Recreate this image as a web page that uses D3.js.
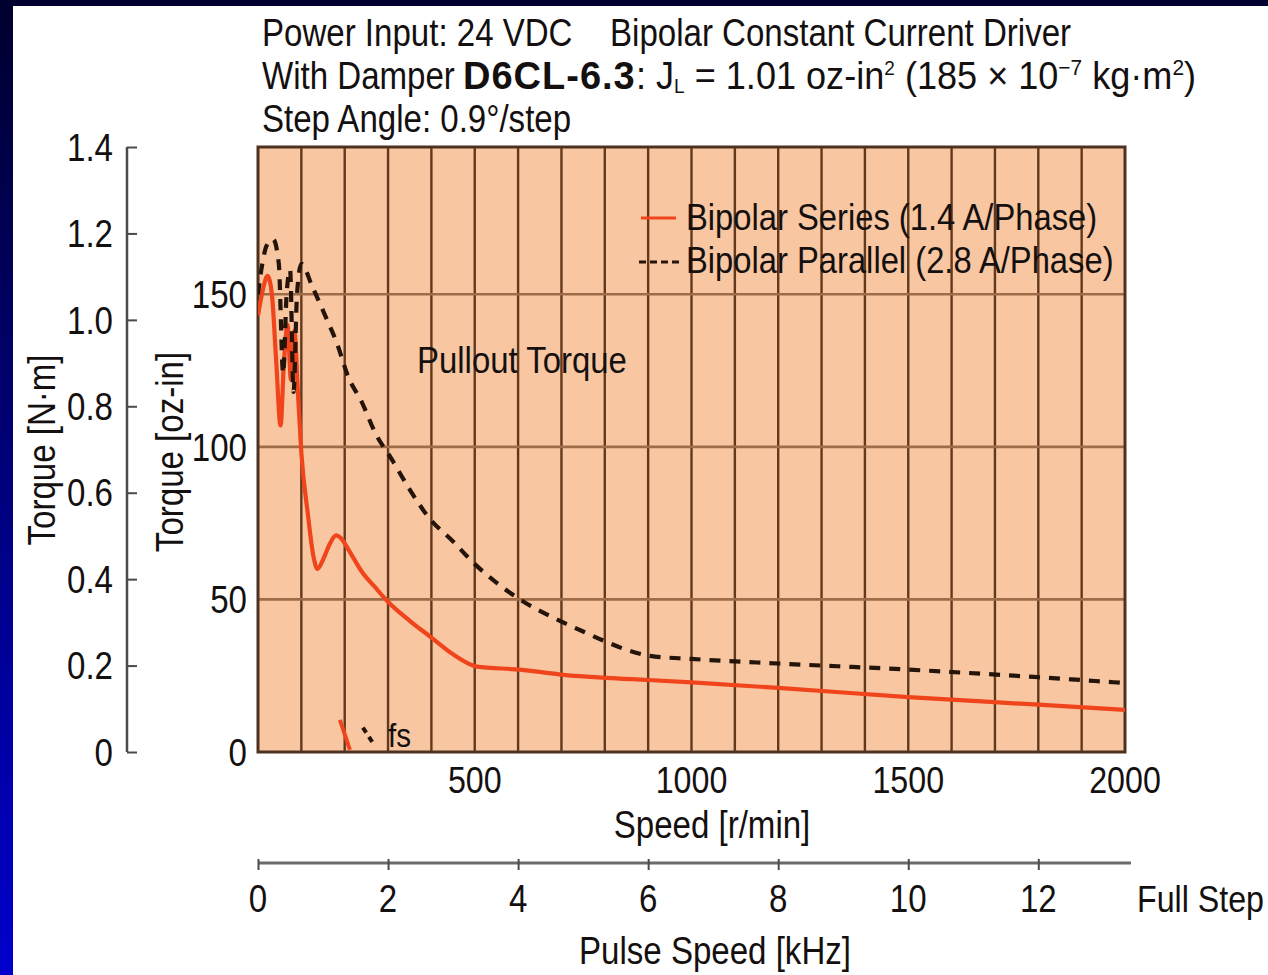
<!DOCTYPE html>
<html><head><meta charset="utf-8">
<script src="https://cdn.jsdelivr.net/npm/d3@7"></script>
<style>
html,body{margin:0;padding:0;background:#fff;overflow:hidden}
svg{display:block}
text{font-family:"Liberation Sans",Arial,Helvetica,sans-serif;fill:#141010}
</style></head>
<body>
<svg id="c" width="1268" height="975"></svg>
<script>
// ---- data ----
const speedTickLabels = [500, 1000, 1500, 2000];
const ozTickLabels = [0, 50, 100, 150];
const nmTickLabels = [0, 0.2, 0.4, 0.6, 0.8, 1.0, 1.2, 1.4];
const pulseTickLabels = [0, 2, 4, 6, 8, 10, 12];
const gridHorizontal = [50, 100, 150];

const seriesSpeed  = [0, 12, 22, 32, 42, 52, 60, 68, 76, 84, 92, 100, 115, 128, 137, 150, 165, 180, 192, 210, 240, 270, 298, 350, 400, 450, 505, 604, 704, 803, 900, 1000, 1200, 1500, 1800, 2000];
const seriesTorque = [143, 152, 156, 150, 128, 107, 128, 140, 122, 138, 118, 98, 78, 64, 60, 63, 68, 71, 70, 66, 59, 54, 49.5, 43, 37.5, 32, 28, 27, 25.3, 24.3, 23.6, 22.8, 21, 18, 15.5, 13.8];

const parallelSpeed  = [0, 10, 20, 35, 48, 58, 66, 74, 82, 90, 100, 125, 155, 182, 208, 240, 270, 309, 350, 393, 450, 497, 550, 604, 681, 750, 805, 850, 904, 1000, 1200, 1500, 1800, 2000];
const parallelTorque = [150, 160, 166, 168, 160, 124, 150, 158, 118, 150, 160, 152.6, 143, 134, 123, 114.5, 104.7, 95.8, 86, 77, 69, 62, 55.5, 50, 44, 39.5, 36, 33.5, 31.5, 30.5, 29, 27, 24.5, 22.6];

const fsSeriesSpeed = [189, 212],  fsSeriesTorque = [10.5, 0.7];
const fsParallelSpeed = [242, 265], fsParallelTorque = [8, 3];

const legendLabels = ["Bipolar Series (1.4 A/Phase)", "Bipolar Parallel (2.8 A/Phase)"];

// ---- layout ----
const svg = d3.select("#c");
const X0 = 258, X1 = 1125, Y0 = 752, Y1 = 147;
const OZ_PER_NM = 141.6119;
const SX = 0.87; // condensed look
const x = d3.scaleLinear().domain([0, 2000]).range([X0, X1]);
const y = d3.scaleLinear().domain([0, 1.4 * OZ_PER_NM]).range([Y0, Y1]);
const yNm = d3.scaleLinear().domain([0, 1.4]).range([Y0, Y1]);
const xk = d3.scaleLinear().domain([0, 2000 * 400 / 60 / 1000]).range([X0, X1]);

function T(parent, tx, ty, str, o = {}) {
  const g = parent.append("g").attr("transform",
    `translate(${tx},${ty})${o.rotate ? ` rotate(${o.rotate})` : ""} scale(${o.sx || SX},1)`);
  const t = g.append("text").attr("font-size", o.size || 38).attr("text-anchor", o.anchor || "start");
  if (o.dy) t.attr("dy", o.dy);
  if (str !== null) t.text(str);
  return t;
}

// background frame
const defs = svg.append("defs");
const lg = defs.append("linearGradient").attr("id","blueg").attr("x1",0).attr("y1",0).attr("x2",0).attr("y2",1);
lg.append("stop").attr("offset","0%").attr("stop-color","#00002e");
lg.append("stop").attr("offset","100%").attr("stop-color","#0000cc");
svg.append("rect").attr("x",0).attr("y",0).attr("width",1268).attr("height",975).attr("fill","#fff");
svg.append("rect").attr("x",0).attr("y",0).attr("width",13).attr("height",975).attr("fill","url(#blueg)");
svg.append("rect").attr("x",0).attr("y",0).attr("width",1268).attr("height",6).attr("fill","#00002e");

// plot area
svg.append("rect").attr("x",X0).attr("y",Y1).attr("width",X1-X0).attr("height",Y0-Y1).attr("fill","#f8c6a0");
defs.append("clipPath").attr("id","plotclip").append("rect").attr("x",X0).attr("y",Y1).attr("width",X1-X0).attr("height",Y0-Y1);

// grid
const g = svg.append("g");
g.selectAll("line.v").data(x.ticks(20).filter(d => d > 0 && d < 2000)).join("line")
  .attr("x1", d => x(d)).attr("x2", d => x(d)).attr("y1", Y1).attr("y2", Y0)
  .attr("stroke","#62391c").attr("stroke-width",2.4);
g.selectAll("line.h").data(gridHorizontal).join("line")
  .attr("x1", X0).attr("x2", X1).attr("y1", d => y(d)).attr("y2", d => y(d))
  .attr("stroke","#9e6c48").attr("stroke-width",2.6);
svg.append("rect").attr("x",X0).attr("y",Y1).attr("width",X1-X0).attr("height",Y0-Y1)
  .attr("fill","none").attr("stroke","#4e3220").attr("stroke-width",3);

// curves
const line = d3.line().x(d => x(d[0])).y(d => y(d[1])).curve(d3.curveMonotoneX);
const cg = svg.append("g").attr("clip-path","url(#plotclip)");
cg.append("path").datum(d3.zip(seriesSpeed, seriesTorque)).attr("d", line)
  .attr("fill","none").attr("stroke","#f0441c").attr("stroke-width",4.2).attr("stroke-linejoin","round");
cg.append("path").datum(d3.zip(parallelSpeed, parallelTorque)).attr("d", line)
  .attr("fill","none").attr("stroke","#24140a").attr("stroke-width",4.2).attr("stroke-dasharray","11,9");
const lin = d3.line().x(d => x(d[0])).y(d => y(d[1]));
cg.append("path").datum(d3.zip(fsSeriesSpeed, fsSeriesTorque)).attr("d", lin)
  .attr("fill","none").attr("stroke","#f0441c").attr("stroke-width",4);
cg.append("path").datum(d3.zip(fsParallelSpeed, fsParallelTorque)).attr("d", lin)
  .attr("fill","none").attr("stroke","#24140a").attr("stroke-width",4).attr("stroke-dasharray","6,5");
T(svg, x(300), 747, "fs", {size: 34});

// legend
svg.append("line").attr("x1",641).attr("x2",676).attr("y1",218).attr("y2",218).attr("stroke","#f0441c").attr("stroke-width",3);
svg.append("line").attr("x1",639).attr("x2",681).attr("y1",262).attr("y2",262).attr("stroke","#24140a").attr("stroke-width",3).attr("stroke-dasharray","7,4");
legendLabels.forEach((d, i) => T(svg, 686, 230 + i * 43, d, {size: 37, sx: 0.885}));
T(svg, 417, 373, "Pullout Torque", {size: 37, sx: 0.89});

// oz-in axis labels
ozTickLabels.forEach(d => T(svg, 247, y(d), String(d), {anchor: "end", dy: "0.36em"}));

// N·m axis
const ax = svg.append("g").attr("transform","translate(127,0)")
  .call(d3.axisRight(yNm).tickValues(nmTickLabels).tickSize(10).tickFormat(""));
ax.select(".domain").attr("stroke","#4a4a4a").attr("stroke-width",2.5).attr("d",`M0,${Y1}V${Y0}`);
ax.selectAll(".tick line").attr("stroke","#4a4a4a").attr("stroke-width",2);
nmTickLabels.forEach(d => T(svg, 113, yNm(d), d === 0 ? "0" : d.toFixed(1), {anchor: "end", dy: "0.36em"}));

// speed labels
speedTickLabels.forEach(d => T(svg, x(d), 793, String(d), {anchor: "middle", size: 37}));
T(svg, 712, 838, "Speed [r/min]", {anchor: "middle"});

// pulse axis
const pa = svg.append("g").attr("transform","translate(0,863)")
  .call(d3.axisBottom(xk).tickValues(pulseTickLabels).tickSize(7).tickFormat(""));
pa.select(".domain").attr("stroke","#6a6a6a").attr("stroke-width",3).attr("d",`M${X0},0H1131`);
pa.selectAll(".tick line").attr("stroke","#4a4a4a").attr("stroke-width",2).attr("y1",-4);
pulseTickLabels.forEach(d => T(svg, xk(d), 912, String(d), {anchor: "middle"}));
T(svg, 1137, 912, "Full Step", {size: 37});
T(svg, 715, 964, "Pulse Speed [kHz]", {anchor: "middle"});

// rotated axis titles
T(svg, 55, 450, "Torque [N·m]", {anchor: "middle", rotate: -90});
T(svg, 183, 452, "Torque [oz-in]", {anchor: "middle", rotate: -90});

// title lines
T(svg, 262, 46, "Power Input: 24 VDC");
T(svg, 610, 46, "Bipolar Constant Current Driver");
T(svg, 262, 89, "With Damper");
svg.append("text").attr("x",463).attr("y",89).attr("font-size",38).attr("font-weight","bold")
  .attr("letter-spacing",1).text("D6CL-6.3");
const t2 = T(svg, 636, 89, null, {sx: 0.95});
t2.append("tspan").text(": J");
t2.append("tspan").attr("font-size",20).attr("dy",4).text("L");
t2.append("tspan").attr("dy",-4).text(" = 1.01 oz-in");
t2.append("tspan").attr("font-size",20).attr("dy",-14).text("2");
t2.append("tspan").attr("dy",14).text(" (185 × 10");
t2.append("tspan").attr("font-size",22).attr("dy",-14).text("−7");
t2.append("tspan").attr("dy",14).text(" kg·m");
t2.append("tspan").attr("font-size",22).attr("dy",-14).text("2");
t2.append("tspan").attr("dy",14).text(")");
T(svg, 262, 132, "Step Angle: 0.9°/step");
</script>
</body></html>
